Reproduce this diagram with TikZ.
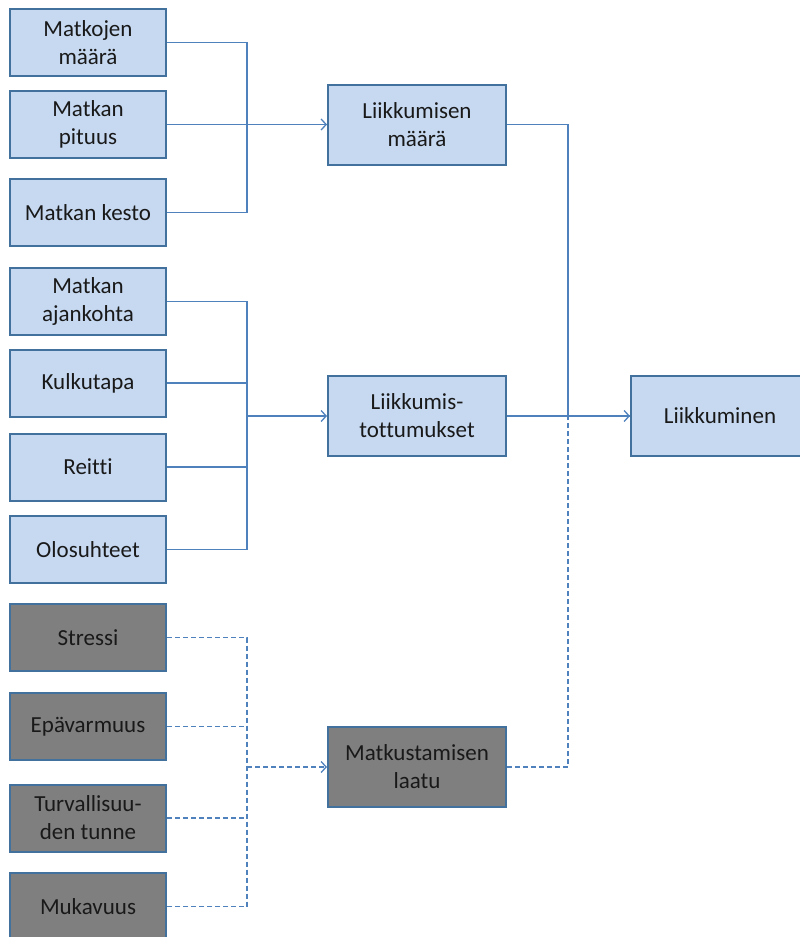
\documentclass[tikz,border=0pt]{standalone}
\usepackage{fontspec}
\setmainfont[Ligatures=CommonOff]{Carlito}
\usetikzlibrary{arrows.meta}
\definecolor{boxblue}{HTML}{C6D9F1}
\definecolor{boxgray}{HTML}{7F7F7F}
\definecolor{edgeblue}{HTML}{41719C}
\definecolor{linkblue}{HTML}{4F81BD}

\begin{document}
\begin{tikzpicture}[x=1pt,y=-1pt,
  box/.style={draw=edgeblue, line width=2pt, fill=boxblue, minimum width=156pt, minimum height=67pt,
    inner sep=0pt, align=center, text=black!90, font=\fontsize{23}{28}\selectfont},
  graybox/.style={box, fill=boxgray},
  midbox/.style={minimum width=178pt, minimum height=80pt},
  link/.style={draw=linkblue, line width=1.3pt},
  dlink/.style={link, dash pattern=on 5pt off 3pt},
  tip/.style={-{Straight Barb[length=5pt,width=11pt,line width=1.3pt]}}]
  \useasboundingbox (0,0) rectangle (800,937);
  % left column
  \node[box] (mat) at (88,42.5) {Matkojen\\määrä};
  \node[box] (pit) at (88,124.5) {Matkan\\pituus};
  \node[box] (kes) at (88,212.5) {Matkan kesto};
  \node[box] (ajk) at (88,301.5) {Matkan\\ajankohta};
  \node[box] (kul) at (88,383) {Kulkutapa};
  \node[box] (rei) at (88,467) {Reitti};
  \node[box] (olo) at (88,549.5) {Olosuhteet};
  \node[graybox] (str) at (88,637.5) {Stressi};
  \node[graybox] (epa) at (88,726.5) {Epävarmuus};
  \node[graybox] (tur) at (88,818) {Turvallisuu-\\den tunne};
  \node[graybox] (muk) at (88,906.5) {Mukavuus};
  % middle and right
  \node[box,midbox] (maara) at (417,124.5) {Liikkumisen\\määrä};
  \node[box,midbox] (tott) at (417,416) {Liikkumis-\\tottumukset};
  \node[graybox,midbox] (laatu) at (417,767) {Matkustamisen\\laatu};
  \node[box,midbox] (liik) at (720,416) {Liikkuminen};
  \coordinate (busL) at (247,0);
  \coordinate (busR) at (568,0);

  % group 1
  \draw[link] (mat.east) -| (busL |- kes.east) -- (kes.east);
  \draw[link] (pit.east) -- (busL |- pit.east);
  \draw[link,tip] (busL |- maara.west) -- (maara.west);
  % group 2
  \draw[link] (ajk.east) -| (busL |- olo.east) -- (olo.east);
  \draw[link] (kul.east) -- (busL |- kul.east);
  \draw[link] (rei.east) -- (busL |- rei.east);
  \draw[link,tip] (busL |- tott.west) -- (tott.west);
  % group 3
  \draw[dlink] (str.east) -| (busL |- muk.east) -- (muk.east);
  \draw[dlink] (epa.east) -- (busL |- epa.east);
  \draw[dlink] (tur.east) -- (busL |- tur.east);
  \draw[dlink,tip] (busL |- laatu.west) -- (laatu.west);
  % to Liikkuminen
  \draw[link] (maara.east) -| (busR |- liik.west);
  \draw[link,tip] (tott.east) -- (liik.west);
  \draw[dlink] (laatu.east) -| (busR |- liik.west) -- (liik.west);
\end{tikzpicture}
\end{document}
